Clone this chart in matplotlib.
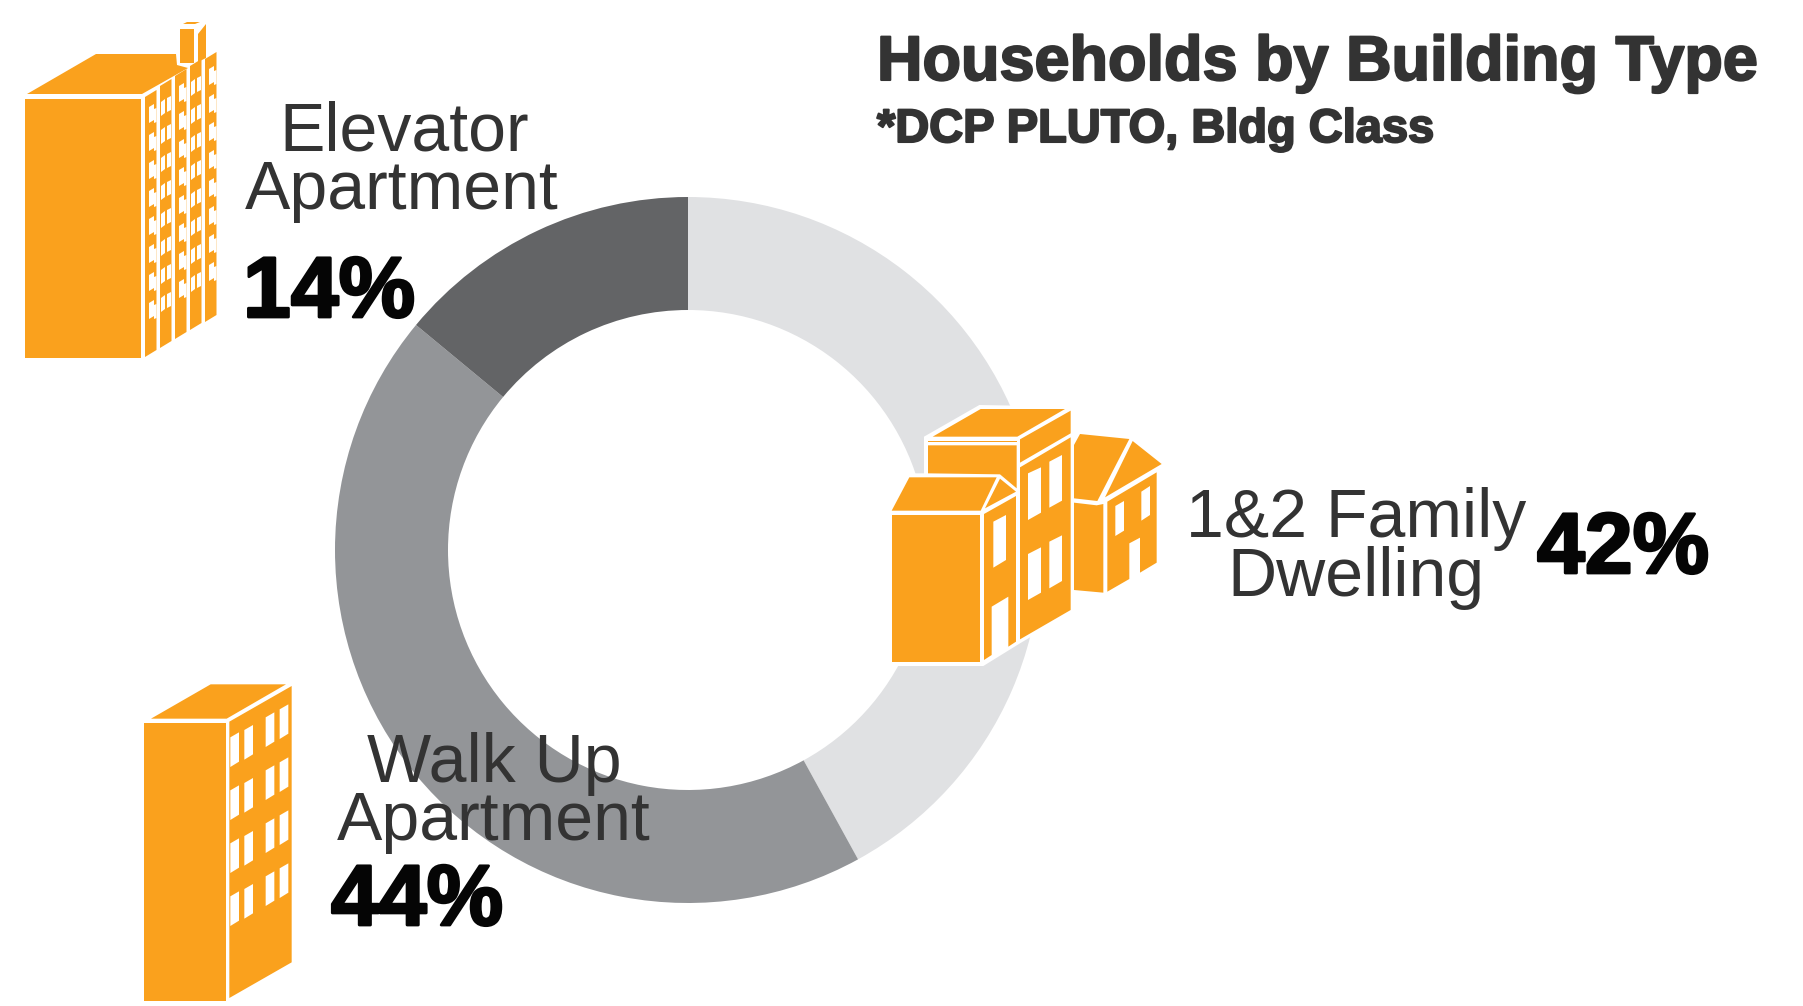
import matplotlib
matplotlib.use('Agg')
import matplotlib.pyplot as plt
import matplotlib.patheffects as pe
from matplotlib.patches import Polygon

WIDTH = 1803
HEIGHT = 1006

# share of households, clockwise from 12 o'clock
categories = ['1&2 Family Dwelling', 'Walk Up Apartment', 'Elevator Apartment']
shares = [42, 44, 14]
ring_colors = ['#E0E1E3', '#939598', '#636466']

ORANGE = '#FAA11D'
TEXT = '#333333'

plt.rcParams['font.family'] = ['Liberation Sans', 'DejaVu Sans']


def px(size):
    return size * 72 / 100


def shape(ax, pts, ox=0, oy=0, sx=1, sy=1, color=ORANGE):
    xy = [(ox + x / sx, oy + y / sy) for x, y in pts]
    ax.add_patch(Polygon(xy, closed=True, facecolor=color, edgecolor='none'))


def elevator_icon(ax):
    shape(ax, [(25, 99), (141, 99), (141, 358), (25, 358)])
    shape(ax, [(27, 94), (96, 54), (176, 54), (177, 65), (188, 68), (142, 94)])
    # chimney block
    shape(ax, [(180, 29), (194, 29), (194, 63), (180, 63)])
    shape(ax, [(198, 34), (206, 24), (206, 58), (198, 62)])
    shape(ax, [(183, 24), (187, 22), (200, 22), (195, 24)])
    # five slanted wall strips
    left = [145, 160, 175, 190, 205]
    top = [97, 86, 76, 66, 59]
    bottom = [357, 348, 339, 330, 322]
    for i in range(5):
        x0 = left[i]
        x1 = x0 + 11.5
        shape(ax, [(x0, top[i]), (x1, top[i] - 7), (x1, bottom[i] - 7), (x0, bottom[i])])
        # window cut-outs repeat every 28 px down the wall
        for row in range(8):
            y = top[i] + 10 + row * 28
            if i % 2 == 0:
                shape(ax, [(x0 + 4, y), (x0 + 9, y - 3), (x0 + 9, y + 13), (x0 + 4, y + 16)], color='white')
                shape(ax, [(x0 + 9, y + 2), (x1, y + 1), (x1, y + 15), (x0 + 9, y + 16)], color='white')
            else:
                shape(ax, [(x0 + 1, y + 6), (x0 + 5, y + 3), (x0 + 5, y + 17), (x0 + 1, y + 20)], color='white')
                shape(ax, [(x0 + 7, y + 2), (x0 + 11, y), (x0 + 11, y + 14), (x0 + 7, y + 16)], color='white')


def family_icon(ax):
    o = dict(ox=860, oy=380, sx=3, sy=3)
    shape(ax, [(85, 395), (140, 280), (192, 280), (192, 170), (358, 75), (640, 80), (640, 160),
               (820, 170), (915, 250), (900, 275), (900, 555), (740, 645), (640, 640), (640, 695),
               (480, 790), (370, 858), (85, 858)], color='white', **o)
    # tall middle house
    shape(ax, [(218, 170), (362, 87), (615, 87), (472, 170)], **o)
    shape(ax, [(204, 182), (470, 182), (470, 186), (204, 186)], **o)
    shape(ax, [(204, 196), (470, 196), (470, 325), (420, 283), (204, 280)], **o)
    shape(ax, [(480, 178), (632, 92), (632, 160), (480, 248)], **o)
    shape(ax, [(480, 262), (632, 172), (632, 690), (480, 778)], **o)
    for w in ([(504, 280), (543, 262), (543, 398), (504, 420)],
              [(568, 245), (606, 225), (606, 362), (568, 383)],
              [(504, 522), (543, 502), (543, 638), (504, 660)],
              [(568, 485), (606, 466), (606, 603), (568, 625)]):
        shape(ax, w, color='white', **o)
    # front house
    shape(ax, [(148, 292), (410, 292), (362, 392), (95, 392)], **o)
    shape(ax, [(420, 296), (468, 335), (375, 385)], **o)
    shape(ax, [(95, 406), (360, 406), (360, 846), (95, 846)], **o)
    shape(ax, [(372, 402), (468, 348), (468, 785), (445, 800), (445, 650), (395, 680),
               (395, 825), (372, 840)], **o)
    shape(ax, [(400, 425), (438, 405), (438, 540), (400, 563)], color='white', **o)
    # right house
    shape(ax, [(642, 195), (660, 162), (808, 177), (712, 363), (642, 355)], **o)
    shape(ax, [(818, 183), (905, 252), (735, 352)], **o)
    shape(ax, [(642, 368), (710, 376), (730, 372), (730, 638), (642, 630)], **o)
    shape(ax, [(742, 365), (890, 277), (890, 548), (840, 578), (840, 473), (808, 490),
               (808, 597), (742, 635)], **o)
    shape(ax, [(766, 378), (792, 363), (792, 452), (766, 468)], color='white', **o)
    shape(ax, [(844, 335), (870, 318), (870, 405), (844, 422)], color='white', **o)


def walkup_icon(ax):
    o = dict(ox=120, oy=660, sx=3, sy=3)
    shape(ax, [(93, 176), (272, 73), (498, 73), (320, 176)], **o)
    shape(ax, [(72, 188), (318, 188), (318, 1024), (72, 1024)], **o)
    shape(ax, [(328, 185), (515, 78), (515, 907), (328, 1014)], **o)
    col_x = [331, 373, 437, 479]
    col_y = [232, 210, 172, 148]
    for x, y in zip(col_x, col_y):
        for row in range(4):
            y0 = y + row * 159
            shape(ax, [(x, y0), (x + 26, y0 - 15), (x + 26, y0 + 73), (x, y0 + 89)], color='white', **o)


def label(ax, x, y, s, size=68, color=TEXT, weight='normal', ha='center', stroke=0):
    t = ax.text(x, y, s, fontsize=px(size), color=color, fontweight=weight, ha=ha, va='baseline')
    if stroke:
        t.set_path_effects([pe.withStroke(linewidth=stroke, foreground=color)])
    return t


fig = plt.figure(figsize=(WIDTH / 100, HEIGHT / 100), dpi=100, facecolor='white')

# ring sits in its own square axes, centre (688, 550), outer radius 353
cx, cy, r = 688, 550, 353
ring = fig.add_axes([(cx - r) / WIDTH, 1 - (cy + r) / HEIGHT, 2 * r / WIDTH, 2 * r / HEIGHT])
ring.pie(shares, colors=ring_colors, startangle=90, counterclock=False, radius=1,
         wedgeprops=dict(width=113 / 353, linewidth=0))
ring.set_xlim(-1, 1)
ring.set_ylim(-1, 1)

# icons and text are laid out in pixels, y pointing down
ax = fig.add_axes([0, 0, 1, 1])
ax.set_xlim(0, WIDTH)
ax.set_ylim(HEIGHT, 0)
ax.axis('off')
ax.patch.set_alpha(0)

elevator_icon(ax)
family_icon(ax)
walkup_icon(ax)

label(ax, 877, 80, 'Households by Building Type', size=63, weight='bold', ha='left', stroke=1.5)
label(ax, 877, 142, '*DCP PLUTO, Bldg Class', size=47, weight='bold', ha='left', stroke=1.5)

label(ax, 404, 150, 'Elevator')
label(ax, 402, 209, 'Apartment')
label(ax, 243, 317, '14%', size=86, color='#050505', weight='bold', ha='left', stroke=2)

label(ax, 1356, 537, '1&2 Family')
label(ax, 1356, 596, 'Dwelling')
label(ax, 1537, 573, '42%', size=86, color='#050505', weight='bold', ha='left', stroke=2)

label(ax, 494, 782, 'Walk Up')
label(ax, 494, 840, 'Apartment')
label(ax, 331, 925, '44%', size=86, color='#050505', weight='bold', ha='left', stroke=2)

fig.savefig('out.png', dpi=100)
